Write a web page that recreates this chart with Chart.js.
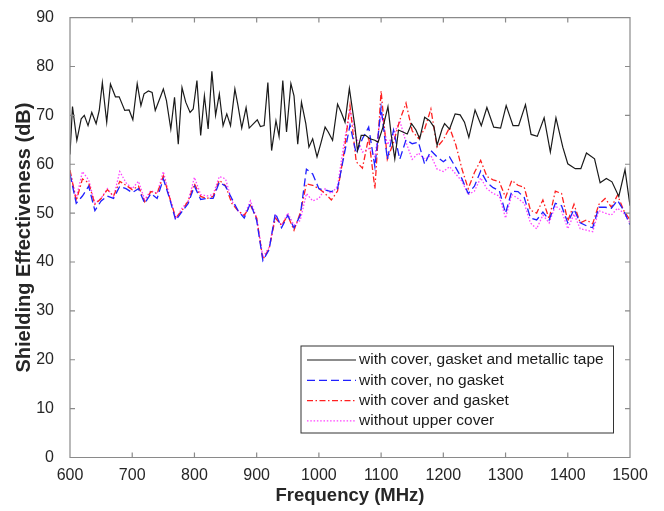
<!DOCTYPE html>
<html>
<head>
<meta charset="utf-8">
<script src="https://cdn.jsdelivr.net/npm/chart.js@4.4.1/dist/chart.umd.min.js"></script>
<style>
html, body { margin: 0; padding: 0; background: #fff; }
#wrap { width: 664px; height: 511px; }
</style>
</head>
<body>
<div id="wrap"><canvas id="seChart" width="664" height="511"></canvas></div>
<script>
// black trace: with cover, gasket and metallic tape (its own sweep points)
const blackFreq = [600, 604, 611, 618, 623, 629, 635, 642, 647, 652,
    659, 665, 673, 679, 688, 695, 701, 708, 714, 719,
    726, 732, 737, 746, 750, 755, 762, 768, 774, 780,
    786, 793, 798, 804, 810, 816, 822, 828, 834, 840,
    846, 852, 858, 865, 870, 876, 883, 888, 895, 901,
    906, 912, 918, 924, 931, 936, 942, 948, 955, 960,
    966, 972, 979, 984, 990, 997, 1003, 1010, 1015, 1022,
    1030, 1036, 1042, 1049, 1058, 1062, 1068, 1075, 1082, 1090,
    1095, 1103, 1111, 1116, 1122, 1128, 1135, 1142, 1149, 1156,
    1162, 1170, 1178, 1185, 1190, 1198, 1202, 1210, 1219, 1227,
    1234, 1241, 1251, 1261, 1270, 1281, 1292, 1301, 1312, 1321,
    1332, 1341, 1351, 1362, 1372, 1381, 1392, 1400, 1412, 1421,
    1430, 1443, 1452, 1462, 1471, 1482, 1492, 1500];
const blackSE = [62.0, 71.8, 64.9, 69.3, 70.0, 67.9, 70.6, 68.3, 71.0, 76.7,
    68.6, 76.4, 73.8, 73.8, 71.0, 71.1, 69.1, 76.5, 72.0, 74.4,
    75.0, 74.7, 71.0, 74.0, 75.4, 73.0, 67.2, 73.7, 64.1, 75.7,
    72.7, 70.6, 71.3, 77.1, 65.9, 74.0, 67.2, 79.0, 70.0, 74.4,
    67.9, 70.3, 67.9, 75.4, 72.0, 67.4, 71.6, 67.4, 68.3, 69.1,
    67.7, 67.9, 76.7, 62.8, 68.9, 65.7, 77.1, 66.6, 76.5, 74.0,
    64.1, 72.7, 68.3, 63.5, 65.2, 61.5, 64.2, 67.6, 66.6, 64.9,
    72.3, 70.6, 68.6, 75.5, 67.6, 62.8, 65.9, 65.9, 65.2, 64.9,
    64.5, 67.6, 71.8, 66.2, 61.1, 67.0, 66.6, 66.2, 68.3, 67.0,
    65.2, 69.6, 68.9, 67.6, 63.9, 67.2, 68.3, 67.2, 70.3, 70.1,
    68.6, 65.5, 71.1, 67.9, 71.6, 67.6, 67.4, 72.0, 67.9, 67.9,
    72.2, 66.1, 65.7, 69.5, 62.5, 69.5, 63.5, 60.1, 59.1, 59.1,
    62.3, 61.1, 56.2, 57.1, 56.4, 53.4, 58.9, 51.5];

// other three traces, read every 10 MHz
const freqMHz = [600, 610, 620, 630, 640, 650, 660, 670, 680, 690,
    700, 710, 720, 730, 740, 750, 760, 770, 780, 790,
    800, 810, 820, 830, 840, 850, 860, 870, 880, 890,
    900, 910, 920, 930, 940, 950, 960, 970, 980, 990,
    1000, 1010, 1020, 1030, 1040, 1050, 1060, 1070, 1080, 1090,
    1100, 1110, 1120, 1130, 1140, 1150, 1160, 1170, 1180, 1190,
    1200, 1210, 1220, 1230, 1240, 1250, 1260, 1270, 1280, 1290,
    1300, 1310, 1320, 1330, 1340, 1350, 1360, 1370, 1380, 1390,
    1400, 1410, 1420, 1430, 1440, 1450, 1460, 1470, 1480, 1490,
    1500];
const noGasketSE = [58.0, 52.0, 53.5, 55.5, 50.5, 52.5, 53.5, 53.0, 55.5, 55.0,
    54.2, 55.0, 52.0, 54.0, 53.0, 57.0, 53.0, 48.5, 50.3, 52.0,
    55.5, 52.8, 53.0, 53.0, 56.3, 55.5, 53.0, 50.5, 49.0, 52.0,
    48.5, 40.3, 42.5, 50.0, 47.0, 49.5, 47.0, 49.5, 59.0, 58.0,
    55.0, 54.7, 54.4, 55.0, 61.5, 68.0, 62.2, 65.2, 67.6, 59.5,
    71.6, 61.0, 67.0, 61.0, 65.0, 64.2, 64.5, 60.0, 62.8, 61.5,
    60.5, 61.5, 59.3, 57.0, 54.0, 55.5, 58.6, 56.3, 55.2, 54.6,
    50.0, 54.5, 54.4, 53.2, 49.0, 48.6, 50.2, 48.6, 52.0, 51.5,
    48.0, 50.8, 48.0, 47.4, 47.0, 51.2, 51.2, 51.0, 52.6, 50.5,
    47.6];
const gasketSE = [58.8, 52.5, 57.0, 56.2, 51.8, 53.0, 54.8, 53.5, 56.5, 55.7,
    54.8, 55.5, 52.3, 54.4, 54.0, 57.6, 53.2, 49.0, 50.5, 52.5,
    56.0, 53.4, 53.0, 53.4, 56.7, 55.6, 52.0, 50.5, 49.5, 51.6,
    49.0, 40.5, 42.7, 49.0, 47.5, 49.5, 46.5, 50.0, 56.0, 55.7,
    55.0, 54.0, 52.7, 54.5, 62.0, 72.0, 60.5, 59.2, 65.5, 55.0,
    75.0, 61.0, 64.5, 69.0, 72.5, 66.8, 65.3, 67.2, 71.3, 63.5,
    65.0, 67.5, 64.0, 59.0, 55.0, 58.3, 60.8, 57.5, 56.8, 56.4,
    53.2, 56.7, 55.7, 55.3, 50.6, 50.0, 52.7, 48.8, 54.5, 54.0,
    48.4, 51.8, 48.0, 48.6, 47.8, 51.8, 53.0, 51.2, 53.7, 50.5,
    48.6];
const noCoverSE = [58.5, 53.0, 58.5, 56.8, 52.0, 53.0, 55.0, 53.3, 58.5, 56.2,
    55.0, 56.5, 52.8, 54.6, 54.0, 58.5, 53.5, 48.8, 51.0, 52.5,
    57.3, 53.8, 53.5, 53.8, 57.5, 57.0, 52.5, 50.5, 49.5, 52.5,
    49.0, 41.0, 43.0, 49.5, 47.5, 50.0, 47.5, 48.5, 54.0, 52.5,
    53.0, 55.0, 54.0, 55.5, 64.0, 71.0, 65.5, 62.5, 63.2, 61.5,
    70.5, 64.0, 66.0, 68.9, 64.5, 61.0, 62.3, 61.0, 61.8, 59.0,
    58.5, 59.5, 58.0, 56.5, 53.8, 54.5, 57.2, 55.0, 54.0, 53.5,
    49.0, 53.8, 53.0, 52.0, 48.0, 46.8, 49.6, 48.0, 51.5, 50.5,
    46.8, 49.8, 46.8, 46.5, 46.2, 50.5, 50.0, 49.6, 51.0, 50.0,
    48.0];

const xTicks = [600, 700, 800, 900, 1000, 1100, 1200, 1300, 1400, 1500];
const yTicks = [0, 10, 20, 30, 40, 50, 60, 70, 80, 90];
const seriesNames = ['with cover, gasket and metallic tape', 'with cover, no gasket',
    'with cover and gasket', 'without upper cover'];

const pairs = (xs, ys) => xs.map((x, i) => ({ x: x, y: ys[i] }));

Chart.defaults.font.family = '"Liberation Sans", Arial, sans-serif';
Chart.defaults.color = '#262626';

// matlab style box with inward ticks, plus the boxed legend
const boxFrame = {
    id: 'boxFrame',
    afterDatasetsDraw(chart) {
        const { ctx, chartArea: a, scales: { x, y } } = chart;
        ctx.save();
        ctx.strokeStyle = '#8a8a8a';
        ctx.lineWidth = 1.2;
        ctx.setLineDash([]);
        ctx.beginPath();
        x.ticks.forEach(t => {
            const px = x.getPixelForValue(t.value);
            ctx.moveTo(px, a.bottom); ctx.lineTo(px, a.bottom - 5);
            ctx.moveTo(px, a.top); ctx.lineTo(px, a.top + 5);
        });
        y.ticks.forEach(t => {
            const py = y.getPixelForValue(t.value);
            ctx.moveTo(a.left, py); ctx.lineTo(a.left + 5, py);
            ctx.moveTo(a.right, py); ctx.lineTo(a.right - 5, py);
        });
        ctx.rect(a.left, a.top, a.right - a.left, a.bottom - a.top);
        ctx.stroke();
        ctx.restore();
    },
    afterDraw(chart) {
        const { ctx, chartArea: a } = chart;
        const left = a.right - 329, top = a.bottom - 111.5, w = 312.5, h = 87;
        ctx.save();
        ctx.fillStyle = '#fff';
        ctx.fillRect(left, top, w, h);
        ctx.strokeStyle = '#333';
        ctx.lineWidth = 1;
        ctx.strokeRect(left, top, w, h);
        ctx.font = '15.5px "Liberation Sans", Arial, sans-serif';
        ctx.textBaseline = 'middle';
        chart.data.datasets.forEach((ds, i) => {
            const yy = top + 14 + i * 20.3;
            ctx.strokeStyle = ds.borderColor;
            ctx.lineWidth = ds.borderWidth;
            ctx.setLineDash(ds.borderDash || []);
            ctx.beginPath();
            ctx.moveTo(left + 6, yy);
            ctx.lineTo(left + 55, yy);
            ctx.stroke();
            ctx.fillStyle = '#1a1a1a';
            ctx.fillText(ds.label, left + 58, yy);
        });
        ctx.restore();
    }
};

const ctx = document.getElementById('seChart').getContext('2d');
window.seChart = new Chart(ctx, {
    type: 'line',
    data: {
        datasets: [{
            label: seriesNames[0],
            data: pairs(blackFreq, blackSE),
            borderColor: '#1a1a1a',
            borderWidth: 1.2
        }, {
            label: seriesNames[1],
            data: pairs(freqMHz, noGasketSE),
            borderColor: '#2020ff',
            borderWidth: 1.3,
            borderDash: [8, 4]
        }, {
            label: seriesNames[2],
            data: pairs(freqMHz, gasketSE),
            borderColor: '#ff2020',
            borderWidth: 1.3,
            borderDash: [6, 2.5, 1.5, 2.5]
        }, {
            label: seriesNames[3],
            data: pairs(freqMHz, noCoverSE),
            borderColor: '#ff40ff',
            borderWidth: 1.3,
            borderDash: [1.5, 1.8]
        }]
    },
    options: {
        responsive: false,
        animation: false,
        devicePixelRatio: 1,
        elements: { point: { radius: 0 }, line: { tension: 0, fill: false } },
        layout: { padding: { left: 8, right: 34, top: 15, bottom: 0 } },
        plugins: { legend: { display: false }, tooltip: { enabled: false } },
        scales: {
            x: {
                type: 'linear',
                min: 600,
                max: 1500,
                afterBuildTicks: s => { s.ticks = xTicks.map(v => ({ value: v })); },
                afterFit: s => { s.height = 53.5; },
                grid: { display: false },
                border: { display: false },
                ticks: { padding: 0, font: { size: 16 }, maxRotation: 0, autoSkip: false, callback: v => String(v) },
                title: { display: true, text: 'Frequency (MHz)', font: { size: 18.5, weight: 'bold' }, padding: { top: 0, bottom: 4 } }
            },
            y: {
                min: 0,
                max: 90,
                afterBuildTicks: s => { s.ticks = yTicks.map(v => ({ value: v })); },
                afterFit: s => { s.width = 62; },
                grid: { display: false },
                border: { display: false },
                ticks: { padding: 8, font: { size: 16 }, callback: v => String(v) },
                title: { display: true, text: 'Shielding Effectiveness (dB)', font: { size: 20, weight: 'bold' }, padding: { top: 4, bottom: 0 } }
            }
        }
    },
    plugins: [boxFrame]
});
</script>
</body>
</html>
